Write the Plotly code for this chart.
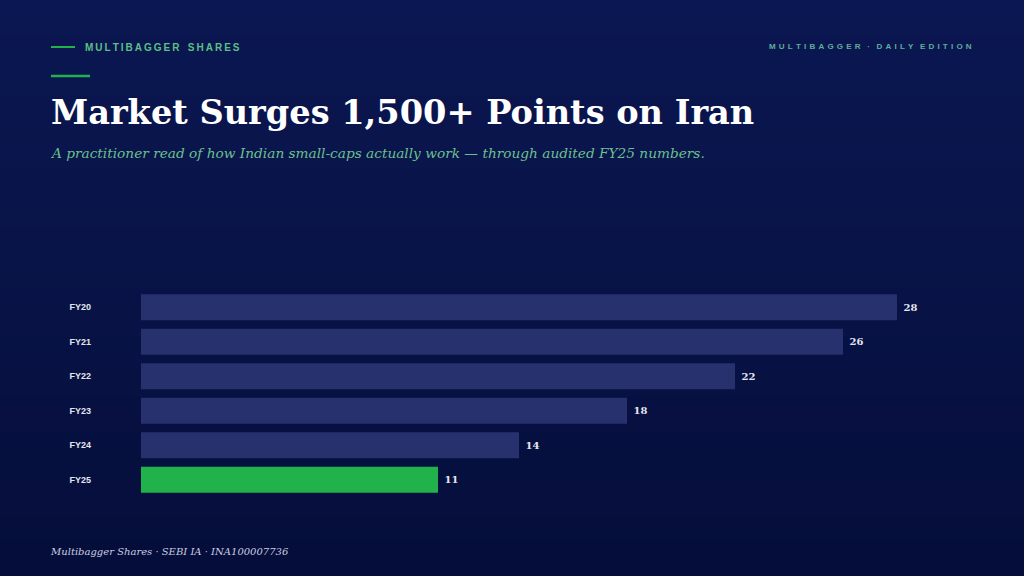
import plotly.graph_objects as go

# data
years = ["FY20", "FY21", "FY22", "FY23", "FY24", "FY25"]
values = [28, 26, 22, 18, 14, 11]
highlight = "FY25"

BG_TOP = (11, 23, 82)
BG_BOT = (5, 14, 58)
BAR = "#27316d"
GREEN = "#22b24c"
HEAD_GREEN = "#5cbf86"
SERIF = "DejaVu Serif"
SANS = "Liberation Sans"


def spaced(s, gap="\u2009"):
    # fake letter spacing with thin spaces
    return "   ".join(gap.join(w) for w in s.split(" "))


colors = [GREEN if y == highlight else BAR for y in years]

fig = go.Figure()
fig.add_trace(go.Bar(
    x=values,
    y=years,
    orientation="h",
    marker=dict(color=colors, line=dict(width=0)),
    text=[" " + str(v) for v in values],
    textposition="outside",
    cliponaxis=False,
    textfont=dict(family=SERIF, size=10, color="#e4e6ef", weight="bold"),
    hoverinfo="skip",
))

W, H = 1024, 576
L, R, T, B = 141, 973, 290, 497


def px(x):
    return (x - L) / (R - L)


def py(y):
    return (B - y) / (B - T)


# background gradient built from thin bands
shapes = []
n = 48
step = H / n
for i in range(n):
    t = i / (n - 1)
    c = tuple(round(BG_TOP[k] + (BG_BOT[k] - BG_TOP[k]) * t) for k in range(3))
    shapes.append(dict(type="rect", xref="paper", yref="paper", layer="below",
                       x0=px(-5), x1=px(W + 5), y0=py((i + 1) * step + 1), y1=py(i * step - (5 if i == 0 else 0)),
                       fillcolor="rgb(%d,%d,%d)" % c, line=dict(width=0)))

shapes.append(dict(type="line", xref="paper", yref="paper", x0=px(51), x1=px(75),
                   y0=py(47), y1=py(47), line=dict(color="#22b24c", width=2)))
shapes.append(dict(type="line", xref="paper", yref="paper", x0=px(51), x1=px(90),
                   y0=py(76), y1=py(76), line=dict(color="#22b24c", width=2.5)))

annotations = [
    dict(text=spaced("MULTIBAGGER SHARES"), x=px(83), y=py(47), xanchor="left", yanchor="middle",
         font=dict(family=SANS, size=10, color=HEAD_GREEN, weight="bold")),
    dict(text=spaced("MULTIBAGGER · DAILY EDITION", "\u2009\u2009"), x=px(974), y=py(46),
         xanchor="right", yanchor="middle",
         font=dict(family=SANS, size=8, color="#5fae9a", weight="bold")),
    dict(text="<b>Market Surges 1,500+ Points on Iran</b>", x=px(49), y=py(112), xanchor="left",
         yanchor="middle", font=dict(family=SERIF, size=33.6, color="#ffffff")),
    dict(text="<i>A practitioner read of how Indian small-caps actually work — through audited FY25 numbers.</i>",
         x=px(48), y=py(153), xanchor="left", yanchor="middle",
         font=dict(family=SERIF, size=13.7, color="#6cc08e")),
    dict(text="<i>Multibagger Shares · SEBI IA · INA100007736</i>", x=px(48), y=py(551), xanchor="left",
         yanchor="middle", font=dict(family=SERIF, size=10, color="#c9cde0")),
]
for a in annotations:
    a.update(xref="paper", yref="paper", showarrow=False)

fig.update_layout(
    width=W, height=H,
    margin=dict(l=L, r=W - R, t=T, b=H - B, pad=0),
    paper_bgcolor="rgb(8,18,70)",
    plot_bgcolor="rgba(0,0,0,0)",
    bargap=0.25,
    showlegend=False,
    shapes=shapes,
    annotations=annotations,
    xaxis=dict(range=[0, (R - L) / 27.0], visible=False, fixedrange=True),
    yaxis=dict(autorange="reversed", showgrid=False, zeroline=False, showline=False,
               ticks="", ticklabelstandoff=49, fixedrange=True,
               tickfont=dict(family=SANS, size=9, color="#e4e6ef", weight="bold")),
)

fig.write_html("out.html", config={"displayModeBar": False},
               post_script="document.body.style.margin='0';document.body.style.overflow='hidden';")
